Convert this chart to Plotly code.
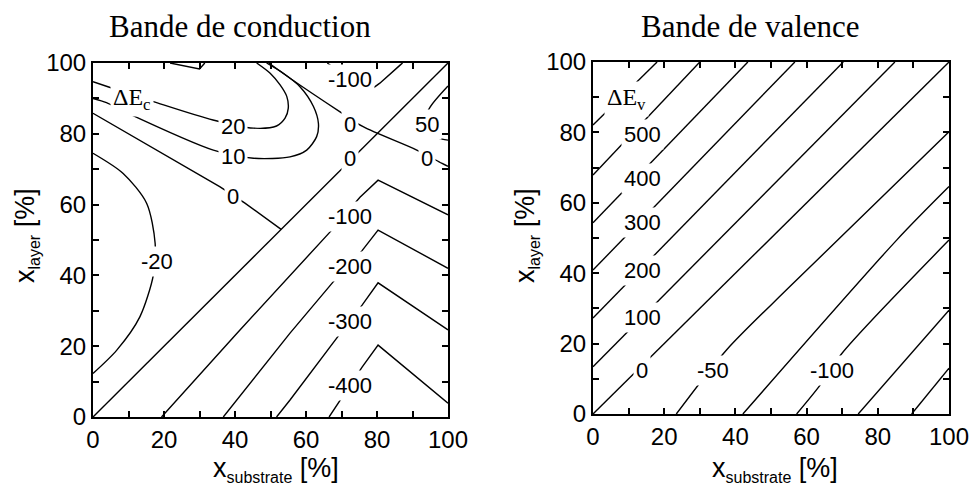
import plotly.graph_objects as go

# ------------------------------------------------------------------
# DATA, coordinates in [%]
# ------------------------------------------------------------------
# --- Bande de conduction (left panel): contour lines ---
cond_p20_x = [0, 4.2, 17.0, 33.8, 45.2, 51.7, 54.1, 55.0, 54.6, 52.7, 49.9, 46.1]
cond_p20_y = [94.7, 93.3, 89.1, 83.9, 81.6, 82.2, 84.4, 87.2, 90.5, 93.8, 97.1, 100]

cond_p10_x = [0, 3.8, 9.0, 33.9, 45.2, 55.5, 60.2, 63.0, 63.5, 62.1, 58.3, 53.6, 48.9]
cond_p10_y = [90.0, 88.8, 86.2, 75.4, 73.1, 73.5, 75.4, 79.2, 82.9, 87.7, 93.3, 97.1, 100]

cond_p30_x = [21.7, 30.0, 31.5]
cond_p30_y = [100, 98.3, 100]

cond_0a_x = [0, 17.9, 35.8, 42.8, 53.0]
cond_0a_y = [85.8, 75.4, 65.0, 60.4, 53.0]

cond_0b_x = [49.5, 55.5, 69.6, 76.1, 91.2, 98.2, 100]
cond_0b_y = [100, 95.7, 86.2, 82.0, 75.4, 71.7, 70.8]

cond_diag_x = [0, 100]
cond_diag_y = [0, 100]

cond_m20_x = [0, 8.5, 15.1, 17.5, 17.0, 13.2, 6.7, 0]
cond_m20_y = [74.5, 68.8, 60.4, 49.1, 40.1, 28.3, 18.9, 12.3]

cond_p50_x = [100, 95.0, 93.0, 95.0, 97.3, 100]
cond_p50_y = [93.5, 87.6, 83.0, 80.0, 78.8, 78.2]

cond_m100top_x = [66.0, 72.4, 78.2, 80.8, 86.5, 87.2]
cond_m100top_y = [100, 95.2, 92.4, 94.3, 99.4, 100]

cond_m100_x = [19.3, 40.5, 66.8, 75.2, 80.3, 100]
cond_m100_y = [0, 23.6, 52.3, 62.1, 66.9, 57.1]

cond_m200_x = [36.7, 55.5, 67.6, 75.8, 80.3, 100]
cond_m200_y = [0, 23.7, 38.1, 47.0, 52.8, 42.0]

cond_m300_x = [51.7, 55.5, 68.6, 75.8, 80.3, 100]
cond_m300_y = [0, 4.8, 22.2, 31.6, 37.9, 24.6]

cond_m400_x = [66.5, 70.1, 75.8, 80.3, 100]
cond_m400_y = [0, 5.4, 14.1, 20.3, 3.9]

cond_label_text = ["20", "10", "0", "-20", "-100", "0", "0", "50", "0",
                   "-100", "-200", "-300", "-400"]
cond_label_x = [39.5, 39.5, 39.5, 17.9, 72.4, 72.4, 72.4, 94.0, 94.0,
                72.4, 72.4, 72.4, 72.4]
cond_label_y = [82.0, 73.5, 62.2, 43.9, 95.2, 82.5, 73.1, 82.5, 73.1,
                56.6, 42.5, 26.9, 9.0]

# --- Bande de valence (right panel): contour lines ---
val_600_x = [0, 18.0];   val_600_y = [82.1, 100]
val_500_x = [0, 30.0];   val_500_y = [67.9, 100]
val_400_x = [0, 43.5];   val_400_y = [54.3, 100]
val_300_x = [0, 56.7];   val_300_y = [40.9, 100]
val_200_x = [0, 70.3];   val_200_y = [27.3, 100]
val_100_x = [0, 84.8];   val_100_y = [13.4, 100]
val_0_x = [0, 100];      val_0_y = [0, 100]
val_m50_x = [23.4, 37.5, 55.3, 100];   val_m50_y = [0, 18.2, 36.2, 80.2]
val_m75_x = [42.1, 85.3, 100];         val_m75_y = [0, 49.4, 64.6]
val_m100_x = [57.2, 63.8, 69.9, 100];  val_m100_y = [0, 8.2, 17.2, 49.4]
val_m125_x = [74.5, 100];              val_m125_y = [0, 29.5]
val_m150_x = [89.5, 100];              val_m150_y = [0, 13.0]

val_label_text = ["500", "400", "300", "200", "100", "0", "-50", "-100"]
val_label_x = [13.8, 13.8, 13.8, 13.8, 13.8, 13.8, 33.8, 67.0]
val_label_y = [79.3, 67.0, 54.5, 40.9, 27.3, 12.5, 12.5, 12.5]

tick_vals = [0, 20, 40, 60, 80, 100]
minor_vals = [10, 30, 50, 70, 90]

# ------------------------------------------------------------------
W, H = 980, 493
OFF = 8  # page body margin offset


def px_x(p):
    return (p - OFF) / W


def px_y(p):
    return 1 - (p - OFF) / H


fig = go.Figure()

lin = dict(color="black", width=1.4)
spl = dict(color="black", width=1.4, shape="spline", smoothing=0.8)

cond_lines = [
    (cond_p20_x, cond_p20_y, spl), (cond_p10_x, cond_p10_y, spl),
    (cond_p30_x, cond_p30_y, lin),
    (cond_0a_x, cond_0a_y, lin), (cond_0b_x, cond_0b_y, spl),
    (cond_diag_x, cond_diag_y, lin),
    (cond_m20_x, cond_m20_y, spl), (cond_p50_x, cond_p50_y, spl),
    (cond_m100top_x, cond_m100top_y, lin), (cond_m100_x, cond_m100_y, lin),
    (cond_m200_x, cond_m200_y, lin), (cond_m300_x, cond_m300_y, lin),
    (cond_m400_x, cond_m400_y, lin),
]
for xs, ys, st in cond_lines:
    fig.add_trace(go.Scatter(x=xs, y=ys, mode="lines", line=st,
                             xaxis="x", yaxis="y", showlegend=False, hoverinfo="skip"))

val_lines = [
    (val_600_x, val_600_y), (val_500_x, val_500_y), (val_400_x, val_400_y),
    (val_300_x, val_300_y), (val_200_x, val_200_y), (val_100_x, val_100_y),
    (val_0_x, val_0_y), (val_m50_x, val_m50_y), (val_m75_x, val_m75_y),
    (val_m100_x, val_m100_y), (val_m125_x, val_m125_y), (val_m150_x, val_m150_y),
]
for xs, ys in val_lines:
    fig.add_trace(go.Scatter(x=xs, y=ys, mode="lines", line=spl,
                             xaxis="x2", yaxis="y2", showlegend=False, hoverinfo="skip"))

SANS = "Liberation Sans, Arial, Helvetica, sans-serif"
SERIF = "Liberation Serif, Times New Roman, serif"
lab_font = dict(family=SANS, size=22, color="black")

annotations = []
for t, x, y in zip(cond_label_text, cond_label_x, cond_label_y):
    annotations.append(dict(text=t, x=x, y=y, xref="x", yref="y", showarrow=False,
                            xanchor="center", yanchor="middle",
                            font=lab_font, bgcolor="white", borderpad=2))
for t, x, y in zip(val_label_text, val_label_x, val_label_y):
    annotations.append(dict(text=t, x=x, y=y, xref="x2", yref="y2", showarrow=False,
                            xanchor="center", yanchor="middle",
                            font=lab_font, bgcolor="white", borderpad=2))

annotations.append(dict(text="ΔE<sub>c</sub>", x=10.9, y=89.8, xref="x", yref="y",
                        showarrow=False, bgcolor="white", borderpad=2,
                        xanchor="center", yanchor="middle",
                        font=dict(family=SERIF, size=24, color="black")))
annotations.append(dict(text="ΔE<sub>v</sub>", x=9.5, y=89.4, xref="x2", yref="y2",
                        showarrow=False, bgcolor="white", borderpad=2,
                        xanchor="center", yanchor="middle",
                        font=dict(family=SERIF, size=24, color="black")))

# panel titles
title_font = dict(family=SERIF, size=31, color="black")
annotations.append(dict(text="Bande de conduction", x=px_x(240), y=px_y(26),
                        xref="paper", yref="paper", showarrow=False, font=title_font,
                        xanchor="center", yanchor="middle"))
annotations.append(dict(text="Bande de valence", x=px_x(750), y=px_y(26),
                        xref="paper", yref="paper", showarrow=False, font=title_font,
                        xanchor="center", yanchor="middle"))

# axis titles
axt_font = dict(family=SANS, size=27, color="black")
xt = "x<sub><span style='font-size:16px'>substrate</span></sub> [%]"
yt = "x<sub><span style='font-size:16px'>layer</span></sub> [%]"
for cx in (276, 775):
    annotations.append(dict(text=xt, x=px_x(cx), y=px_y(469), xref="paper", yref="paper",
                            showarrow=False, font=axt_font,
                            xanchor="center", yanchor="middle"))
for cx in (26, 526):
    annotations.append(dict(text=yt, x=px_x(cx), y=px_y(236), xref="paper", yref="paper",
                            showarrow=False, font=axt_font, textangle=-90,
                            xanchor="center", yanchor="middle"))


def axis(domain, anchor):
    return dict(domain=domain, anchor=anchor, range=[0, 100], showline=True,
                linewidth=2, linecolor="black", mirror="allticks",
                ticks="inside", ticklen=6, tickwidth=1.5, tickcolor="black",
                tickvals=tick_vals, ticktext=[str(v) for v in tick_vals],
                minor=dict(ticks="inside", tickvals=minor_vals, ticklen=6,
                           tickwidth=1.5, tickcolor="black"),
                showgrid=False, zeroline=False, fixedrange=True, automargin=False,
                tickfont=dict(family=SANS, size=24, color="black"))


fig.update_layout(
    template="none",
    width=W, height=H, margin=dict(l=0, r=0, t=0, b=0, pad=0),
    paper_bgcolor="white", plot_bgcolor="white",
    xaxis=axis([px_x(93), px_x(448)], "y"),
    yaxis=axis([px_y(417), px_y(63)], "x"),
    xaxis2=axis([px_x(593), px_x(949)], "y2"),
    yaxis2=axis([px_y(414), px_y(62)], "x2"),
    annotations=annotations,
    showlegend=False,
)

fig.write_html("out.html")
